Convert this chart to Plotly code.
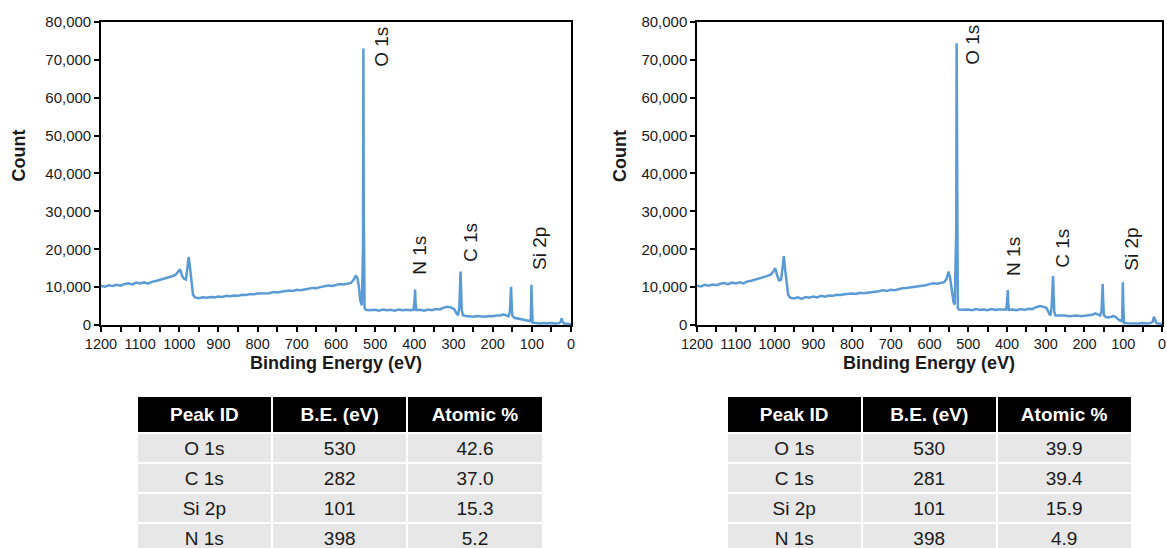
import plotly.graph_objects as go

# ---------------- data ----------------
be_a = [1200, 1190, 1180, 1170, 1160, 1150, 1140, 1130, 1120, 1110, 1100, 1090, 1080, 1070, 1060,
        1050, 1040, 1030, 1020, 1010, 1003, 998, 993, 988, 983, 979, 976, 973, 969, 965, 960,
        950, 940, 930, 920, 910, 900, 890, 880, 870, 860, 850, 840, 830, 820, 810, 800, 790, 780,
        770, 760, 750, 740, 730, 720, 710, 700, 690, 680, 670, 660, 650, 640, 630, 620, 610, 600,
        590, 580, 570, 562, 556, 550, 546, 542, 538, 534, 531, 530, 529, 527, 524, 515, 500, 490,
        480, 470, 460, 450, 440, 430, 420, 410, 402, 399, 398, 397, 395, 385, 375, 365, 355, 345,
        335, 325, 315, 305, 298, 292, 288, 285, 283, 282, 281, 279, 276, 270, 260, 250, 240, 230,
        220, 210, 200, 190, 180, 172, 166, 160, 156, 154, 153, 152, 150, 145, 140, 130, 122, 115,
        108, 103, 102, 101, 100, 98, 90, 80, 70, 60, 50, 40, 30, 26, 24, 22, 18, 10, 5, 0]
cnt_a = [10300, 10100, 10500, 10300, 10600, 10400, 10800, 11000, 10700, 11200, 11000, 11300, 10900,
         11400, 11600, 11900, 12100, 12600, 12800, 13200, 14000, 14700, 13000, 12200, 12000, 15000,
         18000, 15500, 11000, 8000, 7300, 7100, 7300, 7200, 7400, 7300, 7500, 7400, 7700, 7600,
         7800, 7700, 8000, 7900, 8200, 8100, 8300, 8300, 8500, 8400, 8700, 8600, 8800, 8900, 9100,
         9000, 9300, 9200, 9500, 9600, 9800, 9700, 10000, 10200, 10400, 10300, 10600, 10800, 10700,
         11000, 11100, 11800, 12900, 12600, 10500, 6500, 5200, 20000, 73000, 30000, 4500, 4000,
         3900, 4000, 3800, 4100, 3900, 4000, 3800, 4100, 3900, 4000, 3900, 4000, 7000, 9400, 6000,
         3900, 4000, 3800, 4100, 3900, 4200, 4100, 4600, 4800, 4600, 4200, 3000, 2600, 5000, 12000,
         14100, 11000, 4000, 2600, 2400, 2300, 2200, 2400, 2300, 2200, 2400, 2300, 2500, 2500, 2800,
         2500, 2300, 3500, 8000, 10100, 7000, 2500, 1900, 1800, 1700, 1500, 1300, 1100, 1000, 5000,
         10600, 6000, 600, 500, 400, 500, 400, 500, 400, 500, 900, 1800, 1000, 400, 300, 300, 200]

be_b = [1200, 1190, 1180, 1170, 1160, 1150, 1140, 1130, 1120, 1110, 1100, 1090, 1080, 1070, 1060,
        1050, 1040, 1030, 1020, 1010, 1003, 998, 993, 988, 983, 979, 976, 973, 969, 965, 960,
        950, 940, 930, 920, 910, 900, 890, 880, 870, 860, 850, 840, 830, 820, 810, 800, 790, 780,
        770, 760, 750, 740, 730, 720, 710, 700, 690, 680, 670, 660, 650, 640, 630, 620, 610, 600,
        590, 580, 570, 562, 556, 551, 547, 542, 538, 535, 531, 530, 529, 527, 524, 515, 500, 490,
        480, 470, 460, 450, 440, 430, 420, 410, 402, 399, 398, 397, 395, 385, 375, 365, 355, 345,
        335, 325, 315, 305, 298, 292, 288, 285, 283, 281, 280, 278, 275, 270, 260, 250, 240, 230,
        220, 210, 200, 190, 180, 172, 166, 160, 156, 154, 153, 152, 150, 145, 140, 130, 125, 118,
        110, 103, 102, 101, 100, 98, 90, 80, 70, 60, 50, 40, 30, 24, 21, 18, 14, 10, 5, 0]
cnt_b = [10400, 10200, 10600, 10400, 10700, 10500, 10900, 11100, 10800, 11200, 11000, 11300, 11000,
         11500, 11700, 12000, 12200, 12600, 12900, 13300, 14100, 15000, 13000, 11800, 12000, 15500,
         18200, 15000, 11000, 8000, 7200, 7000, 7300, 6900, 7400, 7200, 7500, 7300, 7700, 7500,
         7800, 7700, 8000, 7900, 8100, 8200, 8300, 8200, 8500, 8400, 8600, 8700, 8800, 8900, 9200,
         9000, 9300, 9200, 9500, 9700, 9800, 9900, 10100, 10300, 10400, 10500, 10800, 11000, 10900,
         11200, 11300, 12200, 14100, 12500, 9000, 6000, 5400, 25000, 74400, 30000, 4500, 4100,
         4000, 4100, 3900, 4200, 4000, 4100, 3900, 4200, 4000, 4100, 4000, 4100, 7000, 9200, 6000,
         4000, 4100, 3900, 4200, 4000, 4300, 4200, 4700, 5000, 4800, 4500, 3200, 2500, 4500, 10000,
         12900, 9000, 3500, 2500, 2500, 2400, 2500, 2300, 2400, 2500, 2300, 2400, 2600, 2700, 3100,
         2800, 2500, 3500, 8500, 10800, 7000, 2600, 2100, 2000, 2200, 2400, 2000, 1300, 1000, 5500,
         11300, 6000, 500, 450, 400, 500, 400, 500, 400, 500, 800, 2200, 1200, 500, 400, 300, 300, 200]

peak_labels = ["O 1s", "N 1s", "C 1s", "Si 2p"]
label_be_a = [483, 386, 258, 79]
label_cnt_a = [73400, 18500, 21900, 20100]
label_be_b = [491, 385, 259, 78]
label_cnt_b = [73900, 18200, 20300, 20100]

table_header = ["Peak ID", "B.E. (eV)", "Atomic %"]
tab_ids = ["O 1s", "C 1s", "Si 2p", "N 1s"]
tab_be_a = ["530", "282", "101", "398"]
tab_at_a = ["42.6", "37.0", "15.3", "5.2"]
tab_be_b = ["530", "281", "101", "398"]
tab_at_b = ["39.9", "39.4", "15.9", "4.9"]

# ---------------- styling ----------------
FONT = "Liberation Sans, Arial, sans-serif"
LINE_COLOR = "#5B9BD5"
TXT = "#1a1a1a"

fig = go.Figure()
fig.add_trace(go.Scatter(x=be_a, y=cnt_a, mode="lines", line=dict(color=LINE_COLOR, width=2.5),
                         xaxis="x", yaxis="y", showlegend=False))
fig.add_trace(go.Scatter(x=be_b, y=cnt_b, mode="lines", line=dict(color=LINE_COLOR, width=2.5),
                         xaxis="x2", yaxis="y2", showlegend=False))


def table(domain_x, col2, col3):
    return go.Table(
        domain=dict(x=domain_x, y=[0, 0.2774]),
        columnwidth=[1, 1, 1],
        header=dict(values=["<b>%s</b>" % h for h in table_header],
                    fill_color="black", line=dict(color="white", width=2),
                    font=dict(color="white", size=19, family=FONT),
                    align="center", height=30),
        cells=dict(values=[tab_ids, col2, col3],
                   fill_color="#e7e7e7", line=dict(color="white", width=2),
                   font=dict(color=TXT, size=19, family=FONT),
                   align="center", height=30),
    )


fig.add_trace(table([0.1171, 0.4653], tab_be_a, tab_at_a))
fig.add_trace(table([0.6227, 0.9698], tab_be_b, tab_at_b))

xcommon = dict(range=[1200, 0], tick0=0, dtick=100, ticks="outside", ticklen=5, tickwidth=1.5,
               tickcolor="black", minor=dict(dtick=50, tick0=0, ticks="outside", ticklen=5,
                                             tickwidth=1.5, tickcolor="black"),
               showline=True, linecolor="black", linewidth=1.5, mirror=True,
               showgrid=False, zeroline=False, automargin=False,
               tickfont=dict(size=14.5, color=TXT, family=FONT))
ycommon = dict(range=[0, 80000], dtick=10000, tickformat=",", ticks="outside", ticklen=5,
               tickwidth=1.5, tickcolor="black", showline=True, linecolor="black", linewidth=1.5,
               mirror=True, showgrid=False, zeroline=False, automargin=False,
               tickfont=dict(size=15, color=TXT, family=FONT))

annotations = []
for lab, x, y in zip(peak_labels, label_be_a, label_cnt_a):
    annotations.append(dict(text=lab, x=x, y=y, xref="x", yref="y", showarrow=False,
                            textangle=-90, xanchor="center", yanchor="middle",
                            font=dict(size=19, color=TXT, family=FONT)))
for lab, x, y in zip(peak_labels, label_be_b, label_cnt_b):
    annotations.append(dict(text=lab, x=x, y=y, xref="x2", yref="y2", showarrow=False,
                            textangle=-90, xanchor="center", yanchor="middle",
                            font=dict(size=19, color=TXT, family=FONT)))
for cx in [18.5 / 1167, 620 / 1167]:
    annotations.append(dict(text="<b>Count</b>", x=cx, y=1 - 156 / 548, xref="paper", yref="paper",
                            showarrow=False, textangle=-90, xanchor="center", yanchor="middle",
                            font=dict(size=18, color=TXT, family=FONT)))
for cx in [336 / 1167, 929 / 1167]:
    annotations.append(dict(text="<b>Binding Energy (eV)</b>", x=cx, y=1 - 363 / 548, xref="paper",
                            yref="paper", showarrow=False, xanchor="center", yanchor="middle",
                            font=dict(size=18, color=TXT, family=FONT)))

fig.update_layout(
    width=1167, height=548,
    margin=dict(l=0, r=0, t=0, b=0),
    paper_bgcolor="white", plot_bgcolor="white",
    xaxis=dict(domain=[0.0865, 0.4893], anchor="y", **xcommon),
    yaxis=dict(domain=[0.4069, 0.9599], anchor="x", **ycommon),
    xaxis2=dict(domain=[0.5973, 0.9957], anchor="y2", **xcommon),
    yaxis2=dict(domain=[0.4069, 0.9599], anchor="x2", **ycommon),
    annotations=annotations,
    font=dict(family=FONT, color=TXT),
)

fig.write_html("out.html")
